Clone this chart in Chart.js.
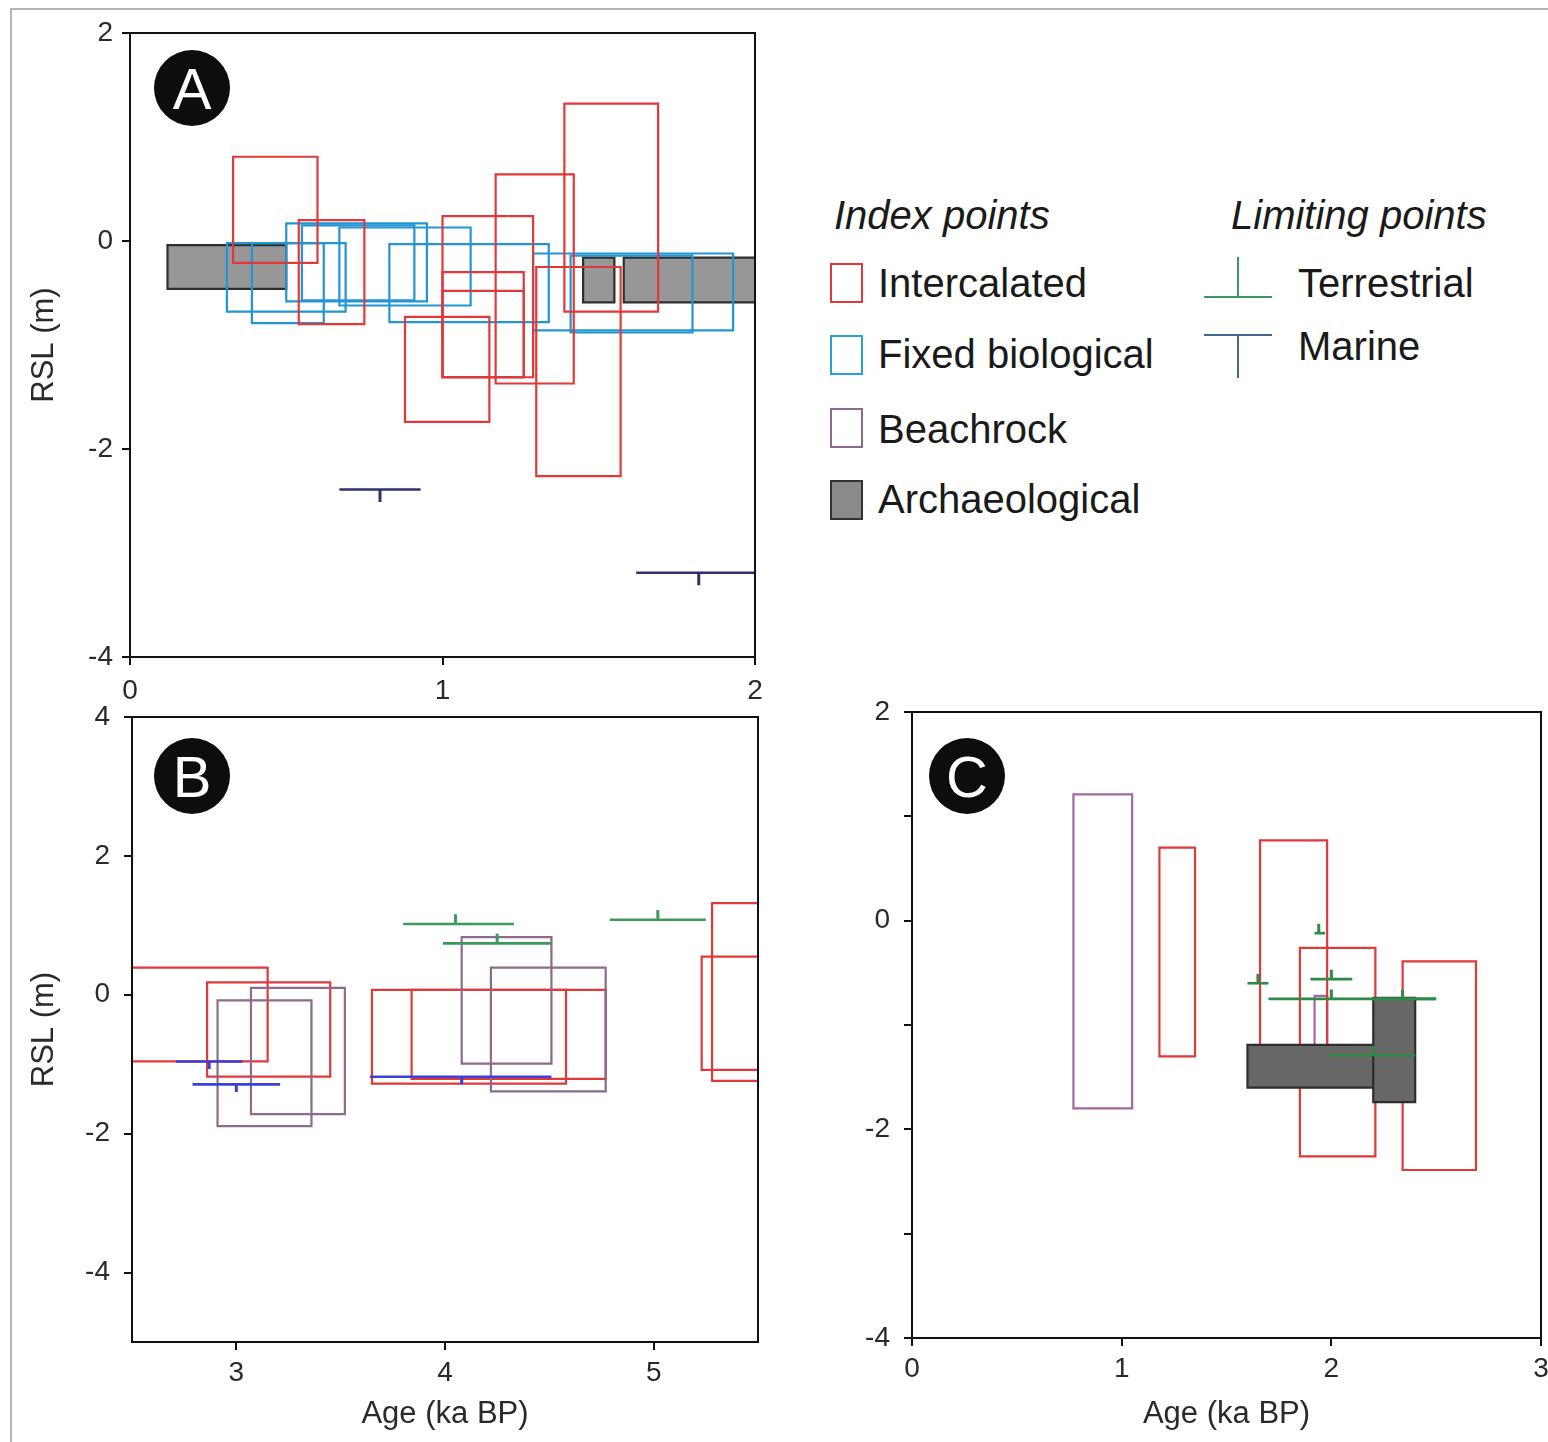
<!DOCTYPE html>
<html>
<head>
<meta charset="utf-8">
<script src="https://cdn.jsdelivr.net/npm/chart.js@4.4.1/dist/chart.umd.min.js"></script>
<style>
  html, body { margin: 0; padding: 0; background: #fff; width: 1548px; height: 1442px; overflow: hidden; position: relative; }
  canvas { position: absolute; }
  .frame { position: absolute; left: 10px; top: 8px; width: 1600px; height: 1500px; border-left: 2px solid #b5b5b5; border-top: 2px solid #b5b5b5; }
  .badge { position: absolute; width: 76px; height: 76px; border-radius: 50%; background: #0d0d0d; color: #fff;
           font: 58px "Liberation Sans", Arial, sans-serif; line-height: 78px; text-align: center; }
  .lg { position: absolute; font: 40px "Liberation Sans", Arial, sans-serif; line-height: 40px; color: #1a1a1a; white-space: nowrap; }
  .lgh { font-style: italic; }
  .sw { position: absolute; width: 29px; height: 36px; box-sizing: content-box; }
  .ln { position: absolute; }
</style>
</head>
<body>
<div class="frame"></div>
<canvas id="cA" width="790" height="705" style="left:0;top:0"></canvas>
<canvas id="cB" width="790" height="756" style="left:0;top:686px"></canvas>
<canvas id="cC" width="770" height="761" style="left:790px;top:681px"></canvas>

<div class="badge" style="left:154px;top:50px">A</div>
<div class="badge" style="left:154px;top:738px">B</div>
<div class="badge" style="left:929px;top:738px">C</div>

<!-- legend -->
<div class="lg lgh" style="left:834px;top:195px">Index points</div>
<div class="lg lgh" style="left:1231px;top:195px">Limiting points</div>
<div class="sw" style="left:830px;top:263px;border:2px solid #e0393a"></div>
<div class="lg" style="left:878px;top:263px">Intercalated</div>
<div class="sw" style="left:830px;top:335px;border:2px solid #2a9fd8"></div>
<div class="lg" style="left:878px;top:334px">Fixed biological</div>
<div class="sw" style="left:830px;top:408px;border:2px solid #8d6a8d"></div>
<div class="lg" style="left:878px;top:409px">Beachrock</div>
<div class="sw" style="left:830px;top:480px;border:2px solid #333;background:#8a8a8a"></div>
<div class="lg" style="left:878px;top:479px">Archaeological</div>
<div class="ln" style="left:1204px;top:296px;width:68px;height:2px;background:#3a9a5a"></div>
<div class="ln" style="left:1237px;top:257px;width:2px;height:40px;background:#3a9a5a"></div>
<div class="lg" style="left:1298px;top:263px">Terrestrial</div>
<div class="ln" style="left:1204px;top:334px;width:68px;height:2px;background:#46658f"></div>
<div class="ln" style="left:1237px;top:334px;width:2px;height:44px;background:#46658f"></div>
<div class="lg" style="left:1298px;top:326px">Marine</div>

<script>
// ---------------- DATA ----------------
// boxes: [ageMin, ageMax, rslTop, rslBottom]   (age in ka BP, RSL in m)
// limiting points: [ageMin, ageMax, ageCentre, rsl]

// Panel A
const A_X_TICKS = [0, 1, 2];
const A_Y_TICKS = [2, 0, -2, -4];
const A_intercalated = [
  [0.33, 0.60, 0.81, -0.21],
  [0.54, 0.75, 0.20, -0.80],
  [1.00, 1.29, 0.24, -1.31],
  [1.00, 1.26, -0.30, -1.31],
  [1.00, 1.26, -0.48, -1.31],
  [1.17, 1.42, 0.64, -1.37],
  [1.39, 1.69, 1.32, -0.68],
  [0.88, 1.15, -0.73, -1.74],
  [1.30, 1.57, -0.25, -2.26]
];
const A_fixedBio = [
  [0.31, 0.69, -0.02, -0.68],
  [0.39, 0.62, -0.02, -0.79],
  [0.50, 0.95, 0.17, -0.58],
  [0.55, 0.91, 0.15, -0.57],
  [0.67, 1.09, 0.13, -0.62],
  [0.83, 1.34, -0.03, -0.78],
  [1.29, 1.93, -0.12, -0.86],
  [1.41, 1.80, -0.14, -0.88]
];
const A_archaeological = [
  [0.12, 0.50, -0.04, -0.46],
  [1.45, 1.55, -0.16, -0.59],
  [1.58, 2.05, -0.16, -0.59]
];
const A_marine = [
  [0.67, 0.93, 0.80, -2.39],
  [1.62, 2.05, 1.82, -3.19]
];

// Panel B
const B_X_TICKS = [3, 4, 5];
const B_Y_TICKS = [4, 2, 0, -2, -4];
const B_intercalated = [
  [2.40, 3.15, 0.39, -0.96],
  [2.86, 3.45, 0.18, -1.18],
  [3.65, 4.58, 0.07, -1.28],
  [3.84, 4.77, 0.07, -1.21],
  [5.28, 5.60, 1.32, -1.24],
  [5.23, 5.60, 0.55, -1.08]
];
const B_beachrock = [
  [3.07, 3.52, 0.10, -1.72],
  [2.91, 3.36, -0.08, -1.89],
  [4.08, 4.51, 0.83, -0.99],
  [4.22, 4.77, 0.39, -1.39]
];
const B_marine = [
  [2.71, 3.03, 2.87, -0.96],
  [2.79, 3.21, 3.00, -1.29],
  [3.64, 4.51, 4.08, -1.18]
];
const B_terrestrial = [
  [3.80, 4.33, 4.05, 1.02],
  [3.99, 4.51, 4.25, 0.74],
  [4.79, 5.25, 5.02, 1.08]
];

// Panel C
const C_X_TICKS = [0, 1, 2, 3];
const C_Y_TICKS = [2, 1, 0, -1, -2, -3, -4];
const C_Y_LABELS = [2, 0, -2, -4];
const C_intercalated = [
  [1.18, 1.35, 0.70, -1.30],
  [1.66, 1.98, 0.77, -1.20],
  [1.85, 2.21, -0.26, -2.26],
  [2.34, 2.69, -0.39, -2.39]
];
const C_beachrock = [
  [0.77, 1.05, 1.21, -1.80],
  [1.92, 1.98, -0.72, -1.21]
];
const C_archaeological = [
  [1.60, 2.20, -1.19, -1.60],
  [2.20, 2.40, -0.74, -1.74]
];
const C_terrestrial = [
  [1.60, 1.70, 1.65, -0.60],
  [1.90, 2.10, 2.00, -0.56],
  [1.70, 2.50, 2.00, -0.75],
  [2.20, 2.50, 2.34, -0.75],
  [1.99, 2.40, 2.20, -1.29],
  [1.92, 1.97, 1.94, -0.12]
];

// ---------------- STYLE ----------------
const COL = {
  intercalated: '#e0393a',
  fixedBio: '#2296d2',
  beachrock: '#8d6a8d',
  beachrockC: '#a06aa0',
  archLine: '#2e2e2e',
  archFillA: '#979797',
  archFillC: '#676767',
  marineA: '#2c3270',
  marineB: '#3b40d6',
  terrestrial: '#3a9a5a',
  terrestrialC: '#2f8a45'
};
const FONT = '"Liberation Sans", Arial, sans-serif';

function boxDS(b, color, fillColor) {
  return {
    data: [ {x:b[0], y:b[2]}, {x:b[1], y:b[2]}, {x:b[1], y:b[3]}, {x:b[0], y:b[3]}, {x:b[0], y:b[2]} ],
    borderColor: color, borderWidth: 2.2, pointRadius: 0, tension: 0,
    borderJoinStyle: 'miter', borderCapStyle: 'square',
    fill: fillColor ? 'shape' : false, backgroundColor: fillColor || 'transparent',
    clip: 0
  };
}
function limitDS(l, color, tick) {
  return [
    { data: [{x:l[0], y:l[3]}, {x:l[1], y:l[3]}], borderColor: color, borderWidth: 2.6, pointRadius: 0, fill: false, clip: 0 },
    { data: [{x:l[2], y:l[3]}, {x:l[2], y:l[3] + tick}], borderColor: color, borderWidth: 3, pointRadius: 0, fill: false, clip: 0 }
  ];
}

const framePlugin = {
  id: 'frame',
  afterDatasetsDraw(chart) {
    const a = chart.chartArea, ctx = chart.ctx;
    ctx.save();
    ctx.strokeStyle = '#111';
    ctx.lineWidth = 2;
    ctx.strokeRect(a.left, a.top, a.right - a.left, a.bottom - a.top);
    ctx.restore();
  }
};

function axis(opts) {
  return {
    type: 'linear', min: opts.min, max: opts.max, position: opts.position,
    afterBuildTicks: s => { s.ticks = opts.ticks.map(v => ({ value: v })); },
    afterFit: s => { if (opts.position === 'left') s.width = opts.size; else s.height = opts.size; },
    grid: { display: true, drawOnChartArea: false, drawTicks: true, tickLength: 8, color: '#111', lineWidth: 2 },
    border: { display: true, color: '#111', width: 2 },
    ticks: {
      color: '#2a2a2a', font: { family: FONT, size: 28 }, padding: opts.pad,
      maxRotation: 0, autoSkip: false,
      callback: v => (opts.labels && opts.labels.indexOf(v) < 0) ? '' : String(v)
    },
    title: { display: !!opts.title, text: opts.title || '', color: '#2a2a2a',
             font: { family: FONT, size: 31 }, padding: opts.titlePad || 0 }
  };
}

function makeChart(id, datasets, xOpts, yOpts, padding) {
  return new Chart(document.getElementById(id), {
    type: 'line',
    data: { datasets },
    options: {
      responsive: false, animation: false, events: [], devicePixelRatio: 1,
      layout: { padding },
      plugins: { legend: { display: false }, tooltip: { enabled: false } },
      scales: { x: axis(xOpts), y: axis(yOpts) }
    },
    plugins: [framePlugin]
  });
}

// ---------------- PANEL A ----------------
(function () {
  const ordered = [];
  A_archaeological.forEach(b => ordered.push(boxDS(b, COL.archLine, COL.archFillA)));
  A_fixedBio.forEach(b => ordered.push(boxDS(b, COL.fixedBio)));
  A_intercalated.forEach(b => ordered.push(boxDS(b, COL.intercalated)));
  A_marine.forEach(l => limitDS(l, COL.marineA, -0.12).forEach(d => ordered.push(d)));
  makeChart('cA', ordered.reverse(),
    { min: 0, max: 2, position: 'bottom', ticks: A_X_TICKS, size: 48, pad: 9 },
    { min: -4, max: 2, position: 'left', ticks: A_Y_TICKS, size: 130, pad: 9, title: 'RSL (m)', titlePad: { top: 26 } },
    { top: 33, right: 35, left: 0, bottom: 0 });
})();

// ---------------- PANEL B ----------------
(function () {
  const ordered = [];
  B_intercalated.forEach(b => ordered.push(boxDS(b, COL.intercalated)));
  B_beachrock.forEach(b => ordered.push(boxDS(b, COL.beachrock)));
  B_marine.forEach(l => limitDS(l, COL.marineB, -0.11).forEach(d => ordered.push(d)));
  B_terrestrial.forEach(l => limitDS(l, COL.terrestrial, 0.14).forEach(d => ordered.push(d)));
  makeChart('cB', ordered.reverse(),
    { min: 2.5, max: 5.5, position: 'bottom', ticks: B_X_TICKS, size: 100, pad: 6, title: 'Age (ka BP)', titlePad: { bottom: 9 } },
    { min: -5, max: 4, position: 'left', ticks: B_Y_TICKS, size: 132, pad: 14, title: 'RSL (m)', titlePad: { top: 26 } },
    { top: 31, right: 32, left: 0, bottom: 0 });
})();

// ---------------- PANEL C ----------------
(function () {
  const ordered = [];
  C_beachrock.forEach(b => ordered.push(boxDS(b, COL.beachrockC)));
  C_intercalated.forEach(b => ordered.push(boxDS(b, COL.intercalated)));
  C_archaeological.forEach(b => ordered.push(boxDS(b, COL.archLine, COL.archFillC)));
  C_terrestrial.forEach(l => limitDS(l, COL.terrestrialC, 0.09).forEach(d => ordered.push(d)));
  makeChart('cC', ordered.reverse(),
    { min: 0, max: 3, position: 'bottom', ticks: C_X_TICKS, size: 104, pad: 6, title: 'Age (ka BP)', titlePad: { bottom: 9 } },
    { min: -4, max: 2, position: 'left', ticks: C_Y_TICKS, labels: C_Y_LABELS, size: 122, pad: 14 },
    { top: 31, right: 19, left: 0, bottom: 0 });
})();
</script>
</body>
</html>
